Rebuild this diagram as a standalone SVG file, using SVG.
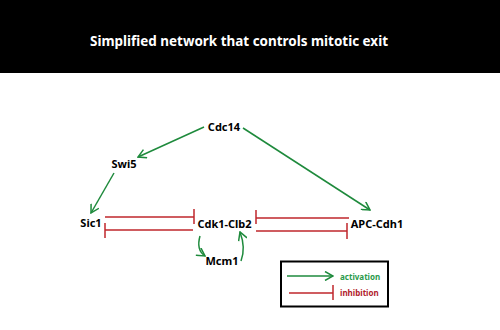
<svg xmlns="http://www.w3.org/2000/svg" width="500" height="330" viewBox="0 0 500 330">
<defs>
<style>
.n{font-family:"Noto Sans","DejaVu Sans",sans-serif;font-weight:bold;font-size:11px;fill:#000;dominant-baseline:central}
.act{fill:none;stroke:#1e8a3c;stroke-width:1.5}
.inh{fill:none;stroke:#c0272d;stroke-width:1.5}
.lg{font-family:"Noto Sans","DejaVu Sans",sans-serif;font-weight:bold;font-size:8px;dominant-baseline:central}
</style>
<marker id="ar" viewBox="0 0 10 10" refX="9" refY="5" markerWidth="10" markerHeight="10" markerUnits="userSpaceOnUse" orient="auto">
<path d="M1,0.5 L9,5 L1,9.5" fill="none" stroke="#1e8a3c" stroke-width="1.5"/>
</marker>
</defs>
<rect x="0" y="0" width="500" height="330" fill="#fff"/>
<rect x="0" y="0" width="500" height="73" fill="#000"/>
<text x="239" y="40" text-anchor="middle" font-family="'Noto Sans','DejaVu Sans',sans-serif" font-weight="bold" font-size="15" fill="#fff" dominant-baseline="central" textLength="298" lengthAdjust="spacingAndGlyphs">Simplified network that controls mitotic exit</text>

<g id="connectors">
<line class="act" x1="204" y1="127" x2="138" y2="157" marker-end="url(#ar)"/>
<line class="act" x1="243" y1="128" x2="370" y2="210" marker-end="url(#ar)"/>
<line class="act" x1="114" y1="173" x2="91" y2="213" marker-end="url(#ar)"/>
<path class="inh" d="M105,217 H194 M194,209 V224"/>
<path class="inh" d="M193,230 H105 M105,223 V238"/>
<path class="inh" d="M349,218 H256 M256,210 V224"/>
<path class="inh" d="M256,231 H347 M347,223 V239"/>
<path class="act" d="M200,236 Q196,250 205,256" marker-end="url(#ar)"/>
<path class="act" d="M241,261 Q246,248 240,232" marker-end="url(#ar)"/>
</g>

<g id="Cdc14"><text class="n" x="224" y="126" text-anchor="middle">Cdc14</text></g>
<g id="Swi5"><text class="n" x="124" y="163" text-anchor="middle">Swi5</text></g>
<g id="Sic1"><text class="n" x="91" y="222" text-anchor="middle">Sic1</text></g>
<g id="Cdk1-Clb2"><text class="n" x="224.5" y="223" text-anchor="middle">Cdk1-Clb2</text></g>
<g id="APC-Cdh1"><text class="n" x="377" y="223" text-anchor="middle">APC-Cdh1</text></g>
<g id="Mcm1"><text class="n" x="222" y="260" text-anchor="middle">Mcm1</text></g>

<g id="legend">
<rect x="281" y="261.5" width="107" height="45" fill="#fff" stroke="#000" stroke-width="2"/>
<line class="act" x1="287" y1="276" x2="333" y2="276" marker-end="url(#ar)"/>
<text class="lg" x="340" y="276" fill="#2a9a4a">activation</text>
<path class="inh" d="M289,293 H333 M333,285 V300"/>
<text class="lg" x="340" y="292" fill="#b0202a">inhibition</text>
</g>
</svg>
